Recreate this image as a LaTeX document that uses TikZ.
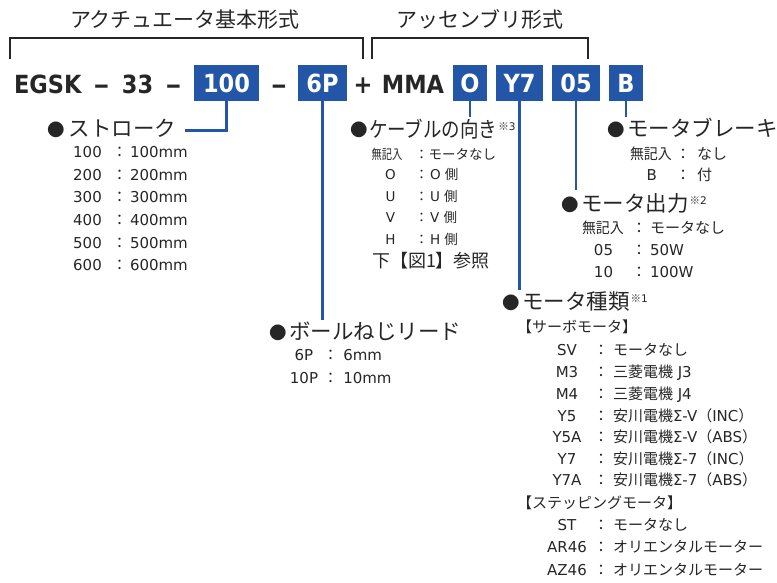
\documentclass[tikz,border=0pt]{standalone}
\usepackage{fontspec}
\usepackage{graphicx}
\setmainfont{DejaVu Sans}
\newfontfamily\jp{Noto Sans CJK JP}
\newfontfamily\rowfont{DejaVu Sans}[FakeStretch=0.9]
\newcommand{\J}[1]{{\jp #1}}
\newcommand{\nx}[2]{\scalebox{#1}[1]{#2}}
\definecolor{blu}{HTML}{2356A6}
\definecolor{txt}{HTML}{262626}
\newcommand{\itemrow}[8]{%
  \node[cc,#8] (#1c) at (#2,#5) {#6};
  \node[cc,#8] (#1k) at (#3,#5) {\J{：}};
  \node[cw,#8] (#1v) at (#4,#5) {#7};}
\begin{document}
\begin{tikzpicture}[x=1pt,y=-1pt,
  every node/.style={inner sep=0pt, outer sep=0pt, text=txt},
  lab/.style={font=\jp\fontsize{21}{21}\selectfont, anchor=base},
  rowtxt/.style={font=\rowfont\bfseries\fontsize{25}{25}\selectfont, anchor=base},
  codebox/.style={fill=blu, minimum height=36pt, text=white, font=\rowfont\bfseries\fontsize{25}{25}\selectfont, anchor=center},
  bul/.style={font=\jp\fontsize{17.5}{17.5}\selectfont, anchor=center},
  head/.style={font=\jp\fontsize{21.5}{21.5}\selectfont, anchor=base west},
  itm/.style={font=\fontsize{15}{15}\selectfont},
  small/.style={font=\fontsize{13.5}{13.5}\selectfont},
  cw/.style={itm, anchor=base west},
  cc/.style={itm, anchor=base},
  lead/.style={draw=blu, line width=2.4pt},
  brk/.style={draw=txt, line width=2.2pt},
  note/.style={font=\fontsize{10.5}{10.5}\selectfont, anchor=base west}
]
\useasboundingbox (0,0) rectangle (777,582);

% top labels and brackets
\node[lab] (t1) at (185,27) {アクチュエータ基本形式};
\node[lab] (t2) at (480,27) {アッセンブリ形式};
\coordinate (a1) at (10,59); \coordinate (a2) at (10,38);
\coordinate (a3) at (363,38); \coordinate (a4) at (363,59);
\draw[brk] (a1) -- (a2) -- (a3) -- (a4);
\coordinate (c1) at (372,59); \coordinate (c2) at (372,38);
\coordinate (c3) at (588,38); \coordinate (c4) at (588,59);
\draw[brk] (c1) -- (c2) -- (c3) -- (c4);

% main row
\node[rowtxt, anchor=base west] (egsk) at (14,93) {EGSK};
\node[rowtxt] (d1) at (101.5,93) {\nx{1.4}{–}};
\node[rowtxt] (n33) at (137.5,93) {33};
\node[rowtxt] (d2) at (173.5,93) {\nx{1.4}{–}};
\node[codebox, minimum width=65pt] (b100) at (226.5,83) {100};
\node[rowtxt] (d3) at (279,93) {\nx{1.4}{–}};
\node[codebox, minimum width=49pt] (b6P) at (322.5,83) {6P};
\node[rowtxt] (plus) at (363,93) {+};
\node[rowtxt] (mma) at (413,93) {MMA};
\node[codebox, minimum width=34pt] (bO) at (470,83) {O};
\node[codebox, minimum width=47pt] (bY7) at (519.5,83) {Y7};
\node[codebox, minimum width=48pt] (b05) at (576,83) {05};
\node[codebox, minimum width=34pt] (bB) at (626,83) {B};

% leads
\coordinate (e1) at (185,130.5);
\coordinate (e2) at (322.5,320);
\coordinate (e3) at (470,117);
\coordinate (e4) at (519.5,290);
\coordinate (e5) at (576,190);
\coordinate (e6) at (626,117);
\draw[lead] (b100.south) |- (e1);
\draw[lead] (b6P.south) -- (e2);
\draw[lead] (bO.south) -- (e3);
\draw[lead] (bY7.south) -- (e4);
\draw[lead] (b05.south) -- (e5);
\draw[lead] (bB.south) -- (e6);

% stroke
\node[bul] (sb) at (56.5,129.4) {●};
\node[head] (sh) at (68.5,136) {ストローク};
\itemrow{s1}{87.5}{119.5}{130}{157.3}{100}{100mm}{}
\itemrow{s2}{87.5}{119.5}{130}{180}{200}{200mm}{}
\itemrow{s3}{87.5}{119.5}{130}{202.7}{300}{300mm}{}
\itemrow{s4}{87.5}{119.5}{130}{225.4}{400}{400mm}{}
\itemrow{s5}{87.5}{119.5}{130}{248}{500}{500mm}{}
\itemrow{s6}{87.5}{119.5}{130}{270.7}{600}{600mm}{}

% cable direction
\node[bul] (kb) at (359,130) {●};
\node[head] (kh) at (369,137) {\nx{0.86}{ケーブルの向き}};
\node[note] (kn) at ([xshift=1pt,yshift=7pt]kh.base east) {\J{※}3};
\node[cw,small] (k0c) at (371.5,159) {\nx{0.76}{\J{無記入}}};
\node[cc,small] (k0k) at (421.7,159) {\J{：}};
\node[cw,small] (k0v) at (428.5,159) {\J{モータなし}};
\itemrow{k1}{390.5}{421.7}{430}{179.5}{O}{O \J{側}}{small}
\itemrow{k2}{390.5}{421.7}{430}{201}{U}{U \J{側}}{small}
\itemrow{k3}{390.5}{421.7}{430}{222.5}{V}{V \J{側}}{small}
\itemrow{k4}{390.5}{421.7}{430}{244.5}{H}{H \J{側}}{small}
\node[cw, font=\jp\fontsize{18}{18}\selectfont] (kref) at (372,267) {下【図1】参照};

% brake
\node[bul] (bb) at (616.5,130) {●};
\node[head] (bh) at (627,136.5) {モータブレーキ};
\node[cw] (br0c) at (630,159.3) {\nx{0.93}{\J{無記入}}};
\node[cc] (br0k) at (683,159.3) {\J{：}};
\node[cw] (br0v) at (697,159.3) {\J{なし}};
\itemrow{br1}{651.7}{683}{697}{180.5}{B}{\J{付}}{}

% motor output
\node[bul] (ob) at (570,205) {●};
\node[head] (oh) at (581,211.5) {モータ出力};
\node[note] (on) at ([xshift=1pt,yshift=7pt]oh.base east) {\J{※}2};
\node[cw] (o0c) at (582,233) {\nx{0.93}{\J{無記入}}};
\node[cc] (o0k) at (639,233) {\J{：}};
\node[cw] (o0v) at (650,233) {\J{モータなし}};
\itemrow{o1}{603.5}{639}{650}{255}{05}{50W}{}
\itemrow{o2}{603.5}{639}{650}{277}{10}{100W}{}

% ball screw lead
\node[bul] (lb) at (278,333) {●};
\node[head] (lh) at (289,339.5) {ボールねじリード};
\itemrow{l1}{304}{330.7}{343.3}{360.7}{6P}{6mm}{}
\itemrow{l2}{304}{330.7}{343.3}{383.3}{10P}{10mm}{}

% motor type
\node[bul] (mb) at (511.7,303.3) {●};
\node[head] (mh) at (522,309.5) {モータ種類};
\node[note] (mn) at ([xshift=1pt,yshift=7pt]mh.base east) {\J{※}1};
\node[cw] (mg1) at (517,332) {\J{【サーボモータ】}};
\itemrow{m1}{567}{601}{613}{355}{SV}{\J{モータなし}}{}
\itemrow{m2}{567}{601}{613}{377}{M3}{\J{三菱電機} J3}{}
\itemrow{m3}{567}{601}{613}{399}{M4}{\J{三菱電機} J4}{}
\itemrow{m4}{567}{601}{613}{421}{Y5}{\J{安川電機}Σ-V\J{（}INC\J{）}}{}
\itemrow{m5}{567}{601}{613}{442.5}{Y5A}{\J{安川電機}Σ-V\J{（}ABS\J{）}}{}
\itemrow{m6}{567}{601}{613}{464}{Y7}{\J{安川電機}Σ-7\J{（}INC\J{）}}{}
\itemrow{m7}{567}{601}{613}{485.5}{Y7A}{\J{安川電機}Σ-7\J{（}ABS\J{）}}{}
\node[cw] (mg2) at (517,508) {\J{【ステッピングモータ】}};
\itemrow{m8}{567}{601}{613}{530}{ST}{\J{モータなし}}{}
\itemrow{m9}{567}{601}{613}{552.5}{AR46}{\J{オリエンタルモーター}}{}
\itemrow{m10}{567}{601}{613}{575}{AZ46}{\J{オリエンタルモーター}}{}
\end{tikzpicture}
\end{document}
